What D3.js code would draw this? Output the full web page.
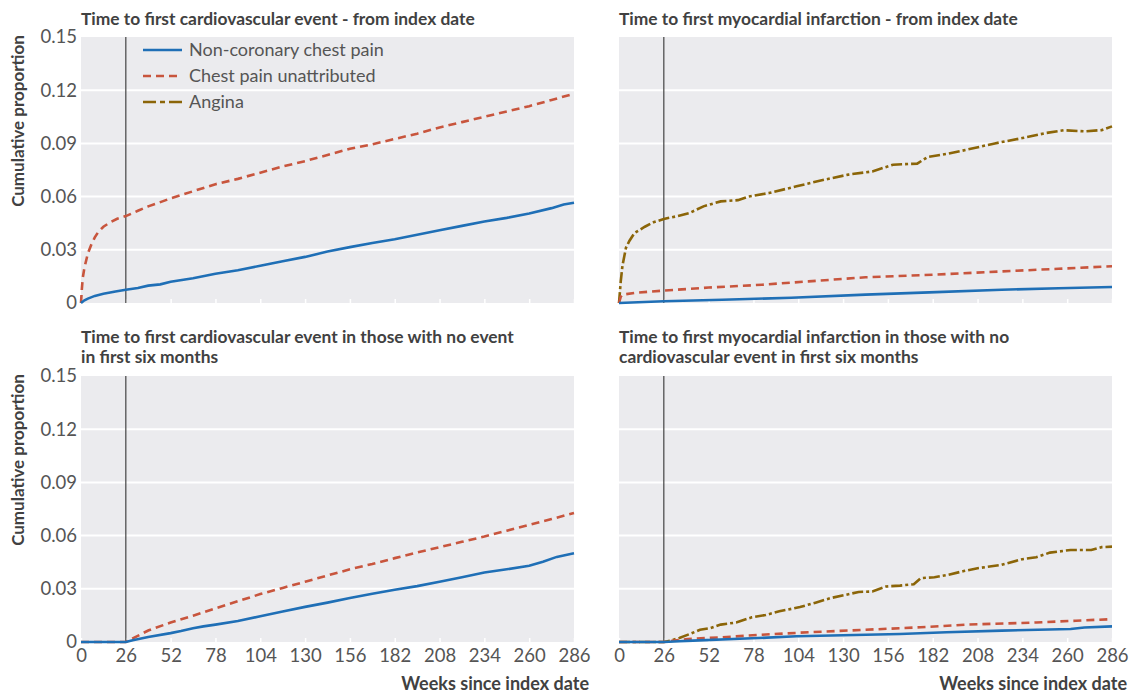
<!DOCTYPE html>
<html>
<head>
<meta charset="utf-8">
<script src="https://cdn.jsdelivr.net/npm/d3@7"></script>
<style>
  body { margin: 0; background: #fff; }
  text { font-family: Lato, "Open Sans", sans-serif; }
</style>
</head>
<body>
<svg id="chart"></svg>
<script>
// Tick values and series names
const weekTicks = [0, 26, 52, 78, 104, 130, 156, 182, 208, 234, 260, 286];
const propTicks = [0, 0.03, 0.06, 0.09, 0.12, 0.15];
const seriesNames = ["Non-coronary chest pain", "Chest pain unattributed", "Angina"];

// Time to first cardiovascular event - from index date  [week, cumulative proportion]
const cvIndexNonCoronary = [[0,0],[2,0.0015],[4,0.0025],[8,0.004],[13,0.0052],[20,0.0065],[26,0.0075],[33,0.0085],[39,0.0098],[46,0.0105],[52,0.012],[65,0.014],[78,0.0165],[91,0.0185],[104,0.021],[117,0.0235],[130,0.026],[143,0.029],[156,0.0315],[169,0.0338],[182,0.036],[195,0.0385],[208,0.041],[221,0.0435],[234,0.046],[247,0.048],[260,0.0505],[273,0.0535],[280,0.0555],[286,0.0565]];
const cvIndexUnattributed = [[0,0],[0.5,0.008],[1,0.014],[2,0.02],[3,0.024],[4,0.028],[6,0.033],[8,0.037],[10,0.04],[13,0.043],[17,0.0455],[21,0.0475],[26,0.049],[33,0.052],[39,0.0545],[45,0.0565],[52,0.059],[65,0.063],[78,0.067],[91,0.07],[104,0.0735],[117,0.077],[130,0.08],[143,0.0835],[156,0.087],[169,0.0895],[182,0.0925],[195,0.0955],[208,0.099],[221,0.102],[234,0.105],[247,0.108],[260,0.111],[273,0.1145],[286,0.118]];

// Time to first myocardial infarction - from index date
const miIndexNonCoronary = [[0,0],[26,0.001],[60,0.0018],[100,0.003],[143,0.0047],[180,0.006],[222,0.0075],[255,0.0083],[286,0.009]];
const miIndexUnattributed = [[0,0],[1,0.0035],[2,0.0047],[10,0.0058],[26,0.007],[52,0.0087],[83,0.0103],[110,0.0122],[143,0.0145],[183,0.016],[222,0.0178],[255,0.0193],[286,0.0207]];
const miIndexAngina = [[0,0],[1,0.012],[2,0.021],[4,0.031],[6,0.035],[9,0.0395],[15,0.043],[20,0.0455],[26,0.0474],[34,0.049],[41,0.0508],[49,0.0545],[59,0.0573],[69,0.058],[75,0.06],[87,0.062],[103,0.0658],[119,0.0695],[133,0.0724],[147,0.0742],[159,0.078],[173,0.0786],[179,0.0823],[191,0.0842],[202,0.0865],[218,0.09],[234,0.093],[248,0.0959],[258,0.0974],[270,0.0968],[280,0.0975],[286,0.0996]];

// Time to first cardiovascular event in those with no event in first six months
const cvLateNonCoronary = [[0,0],[26,0],[30,0.001],[39,0.0028],[52,0.005],[58,0.0062],[65,0.0078],[71,0.0088],[78,0.0098],[91,0.0118],[104,0.0145],[117,0.0172],[130,0.0198],[143,0.0222],[156,0.0248],[169,0.0272],[182,0.0295],[195,0.0315],[208,0.034],[221,0.0365],[234,0.0392],[247,0.041],[260,0.043],[268,0.0452],[276,0.048],[286,0.05]];
const cvLateUnattributed = [[0,0],[26,0],[30,0.002],[39,0.0065],[52,0.011],[65,0.0148],[78,0.019],[91,0.023],[104,0.027],[117,0.0305],[130,0.034],[143,0.0375],[156,0.041],[169,0.044],[182,0.0473],[195,0.0505],[208,0.0535],[221,0.0565],[234,0.0595],[247,0.0628],[260,0.066],[273,0.0693],[286,0.0728]];

// Time to first myocardial infarction in those with no cardiovascular event in first six months
const miLateNonCoronary = [[0,0],[26,0],[35,0.0004],[43,0.00075],[70,0.0018],[103,0.0032],[130,0.0038],[163,0.0045],[190,0.0055],[222,0.0064],[262,0.0073],[270,0.0082],[286,0.0088]];
const miLateUnattributed = [[0,0],[26,0],[32,0.0008],[40,0.0017],[60,0.0027],[83,0.0041],[110,0.0055],[143,0.0069],[175,0.0083],[202,0.0098],[242,0.011],[265,0.012],[286,0.0129]];
const miLateAngina = [[0,0],[26,0],[30,0.0008],[35,0.0023],[41,0.0045],[47,0.0069],[53,0.0078],[59,0.0098],[68,0.011],[77,0.0139],[85,0.0152],[93,0.0173],[105,0.0197],[114,0.0222],[123,0.0248],[131,0.0265],[139,0.0282],[147,0.0285],[155,0.0313],[163,0.0318],[171,0.0326],[175,0.036],[183,0.0365],[191,0.0379],[200,0.04],[208,0.0416],[222,0.0435],[234,0.0467],[242,0.0478],[250,0.0504],[262,0.0519],[274,0.0519],[280,0.0535],[286,0.0538]];

const width = 1129;
const height = 694;
const pw = 493, ph = 266;
const lefts = [81, 619];
const tops = [37, 376];

const colors = {nc: "#1f6fb6", un: "#c8553d", an: "#8b6508"};
const dashes = {nc: null, un: "8,5", an: "11,3,3,3"};

const panels = [
    {col: 0, row: 0, title: ["Time to first cardiovascular event - from index date"],
     lines: [["un", cvIndexUnattributed], ["nc", cvIndexNonCoronary]]},
    {col: 1, row: 0, title: ["Time to first myocardial infarction - from index date"],
     lines: [["an", miIndexAngina], ["un", miIndexUnattributed], ["nc", miIndexNonCoronary]]},
    {col: 0, row: 1, title: ["Time to first cardiovascular event in those with no event", "in first six months"],
     lines: [["un", cvLateUnattributed], ["nc", cvLateNonCoronary]]},
    {col: 1, row: 1, title: ["Time to first myocardial infarction in those with no", "cardiovascular event in first six months"],
     lines: [["an", miLateAngina], ["un", miLateUnattributed], ["nc", miLateNonCoronary]]}
];

const x = d3.scaleLinear().domain([0, 286]).range([0, pw]);
const y = d3.scaleLinear().domain([0, 0.15]).range([ph, 0]);

const line = d3.line()
    .x(d => x(d[0]))
    .y(d => y(d[1]));

const svg = d3.select("#chart")
    .attr("width", width)
    .attr("height", height)
    .attr("viewBox", [0, 0, width, height]);

panels.forEach(p => {
    const g = svg.append("g")
        .attr("transform", `translate(${lefts[p.col]},${tops[p.row]})`);

    // title
    const titleY = p.title.length === 1 ? -12 : -33;
    g.append("text")
        .attr("fill", "#414141")
        .attr("font-size", 17.4)
        .attr("font-weight", 700)
        .selectAll("tspan")
        .data(p.title)
        .join("tspan")
            .attr("x", 0)
            .attr("y", (d, i) => titleY + i * 20)
            .text(d => d);

    g.append("rect")
        .attr("width", pw)
        .attr("height", ph)
        .attr("fill", "#ebebee");

    // horizontal gridlines
    g.append("g")
        .selectAll("line")
        .data(propTicks.filter(d => d > 0 && d < 0.15))
        .join("line")
            .attr("x1", 0)
            .attr("x2", pw)
            .attr("y1", d => y(d))
            .attr("y2", d => y(d))
            .attr("stroke", "#fff")
            .attr("stroke-width", 2);

    // x axis: small white ticks inside, labels on bottom row only
    const xAxis = g.append("g")
        .attr("transform", `translate(0,${ph})`)
        .call(d3.axisBottom(x)
            .tickValues(weekTicks)
            .tickSizeInner(-4)
            .tickSizeOuter(0)
            .tickPadding(7)
            .tickFormat(p.row === 1 ? d3.format("d") : () => ""));
    xAxis.select(".domain").remove();
    xAxis.selectAll(".tick line").attr("stroke", "#fff").attr("stroke-width", 1.5);
    xAxis.selectAll(".tick text")
        .attr("fill", "#555")
        .attr("font-size", 18.5)
        .attr("font-family", "Lato, sans-serif");

    if (p.col === 0) {
        const yAxis = g.append("g")
            .call(d3.axisLeft(y)
                .tickValues(propTicks)
                .tickSize(0)
                .tickPadding(4)
                .tickFormat(d => d === 0 ? "0" : d3.format(".2f")(d)));
        yAxis.select(".domain").remove();
        yAxis.selectAll(".tick text")
            .attr("fill", "#555")
            .attr("font-size", 18.5)
            .attr("font-family", "Lato, sans-serif");

        g.append("text")
            .attr("transform", `translate(${18 - lefts[0]},${ph / 2 - 49}) rotate(-90)`)
            .attr("text-anchor", "middle")
            .attr("dy", "0.35em")
            .attr("fill", "#414141")
            .attr("font-size", 17)
            .attr("font-weight", 700)
            .text("Cumulative proportion");
    }

    if (p.row === 1) {
        g.append("text")
            .attr("x", pw + 15)
            .attr("y", ph + 48)
            .attr("text-anchor", "end")
            .attr("fill", "#414141")
            .attr("font-size", 18)
            .attr("font-weight", 700)
            .text("Weeks since index date");
    }

    // six month marker
    g.append("line")
        .attr("x1", x(26))
        .attr("x2", x(26))
        .attr("y1", 0)
        .attr("y2", ph)
        .attr("stroke", "#444")
        .attr("stroke-width", 1.2);

    g.append("g")
        .selectAll("path")
        .data(p.lines)
        .join("path")
            .attr("d", d => line(d[1]))
            .attr("fill", "none")
            .attr("stroke", d => colors[d[0]])
            .attr("stroke-width", 2.6)
            .attr("stroke-dasharray", d => dashes[d[0]]);

    // legend in first panel
    if (p.col === 0 && p.row === 0) {
        const keys = ["nc", "un", "an"];
        const leg = g.append("g")
            .selectAll("g")
            .data(keys)
            .join("g")
                .attr("transform", (d, i) => `translate(62,${13 + i * 26})`);
        leg.append("line")
            .attr("x1", 0)
            .attr("x2", 39)
            .attr("stroke", d => colors[d])
            .attr("stroke-width", 2.6)
            .attr("stroke-dasharray", d => d === "un" ? "8,5" : d === "an" ? "13,4,5,4" : null);
        leg.append("text")
            .attr("x", 46)
            .attr("dy", "0.35em")
            .attr("fill", "#555")
            .attr("font-size", 18)
            .text((d, i) => seriesNames[i]);
    }
});
</script>
</body>
</html>
